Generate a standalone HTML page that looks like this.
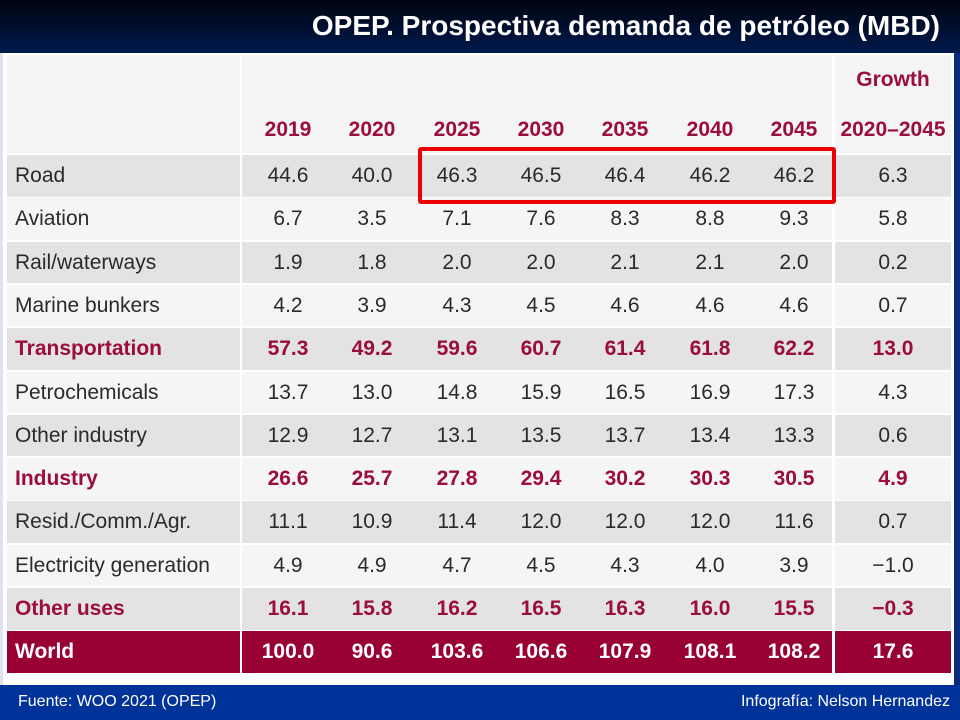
<!DOCTYPE html>
<html><head><meta charset="utf-8">
<style>
body{margin:0;width:960px;height:720px;overflow:hidden;background:#fff;font-family:"Liberation Sans Narrow","Liberation Sans",sans-serif;position:relative}
#top{position:absolute;left:0;top:0;width:960px;height:53px;background:linear-gradient(#00030f,#001a4d)}
#title{position:absolute;right:20px;top:10px;color:#fff;font:bold 28px "Liberation Sans",sans-serif;white-space:nowrap}
#bottom{position:absolute;left:0;top:685px;width:960px;height:35px;background:#003399}
#rightedge{position:absolute;left:954px;top:53px;width:6px;height:632px;background:#0a2a7a}
#leftedge{position:absolute;left:0;top:53px;width:3px;height:632px;background:#dfe3ee}
.foot{position:absolute;top:693px;color:#fff;font:16px "Liberation Sans Narrow","Liberation Sans",sans-serif}
.cell{position:absolute;box-sizing:border-box;font-size:21px;color:#222;line-height:42px;white-space:nowrap}
.hd{position:absolute;color:#9b0d3a;font-weight:bold;font-size:21px;text-align:center}
</style></head><body>
<div id="top"></div>
<div id="title">OPEP. Prospectiva demanda de petróleo (MBD)</div>
<div id="leftedge"></div>
<div id="rightedge"></div>
<div id="table"></div>
<div id="bottom"></div>
<div class="foot" style="left:18px">Fuente: WOO 2021 (OPEP)</div>
<div class="foot" style="right:10px">Infografía: Nelson Hernandez</div>
<script>
const years = ["2019","2020","2025","2030","2035","2040","2045"];
const categories = ["Road","Aviation","Rail/waterways","Marine bunkers","Transportation","Petrochemicals","Other industry","Industry","Resid./Comm./Agr.","Electricity generation","Other uses","World"];
const subtotal = [false,false,false,false,true,false,false,true,false,false,true,true];
const values = [
["44.6","40.0","46.3","46.5","46.4","46.2","46.2"],
["6.7","3.5","7.1","7.6","8.3","8.8","9.3"],
["1.9","1.8","2.0","2.0","2.1","2.1","2.0"],
["4.2","3.9","4.3","4.5","4.6","4.6","4.6"],
["57.3","49.2","59.6","60.7","61.4","61.8","62.2"],
["13.7","13.0","14.8","15.9","16.5","16.9","17.3"],
["12.9","12.7","13.1","13.5","13.7","13.4","13.3"],
["26.6","25.7","27.8","29.4","30.2","30.3","30.5"],
["11.1","10.9","11.4","12.0","12.0","12.0","11.6"],
["4.9","4.9","4.7","4.5","4.3","4.0","3.9"],
["16.1","15.8","16.2","16.5","16.3","16.0","15.5"],
["100.0","90.6","103.6","106.6","107.9","108.1","108.2"]];
const growth = ["6.3","5.8","0.2","0.7","13.0","4.3","0.6","4.9","0.7","−1.0","−0.3","17.6"];

const T = document.getElementById('table');
const colX = [288,372,457,541,625,710,794];
const rowY = i => 155 + i*43.3;
function add(cls, css, txt, name){
  const d=document.createElement('div');
  d.className=cls; d.style.cssText=css; if(txt!==null) d.textContent=txt;
  
  
  T.appendChild(d); return d;
}
add('cell','left:7px;top:55px;width:233px;height:98px;background:#f4f4f4',null,'header-blank');
add('cell','left:242px;top:55px;width:590px;height:98px;background:#f4f4f4',null,'header-years-bg');
add('cell','left:835px;top:55px;width:116px;height:98px;background:#f4f4f4',null,'header-growth-bg');
years.forEach((y,j)=>{
  add('hd','left:'+(colX[j]-40)+'px;top:118px;width:80px',y,'year-header');
});
add('hd','left:835px;top:68px;width:116px','Growth','growth-header');
add('hd','left:835px;top:118px;width:116px','2020–2045','growth-period-header');

categories.forEach((c,i)=>{
  const world = i===categories.length-1;
  const bg = world ? '#990033' : (i%2===0 ? '#e3e3e3' : '#f5f5f5');
  const col = world ? '#fff' : (subtotal[i] ? '#9b0d3a' : '#2a2a2a');
  const fw = subtotal[i] ? 'bold' : 'normal';
  const top = rowY(i), h=41.5;
  add('cell','left:7px;top:'+top+'px;width:233px;height:'+h+'px;background:'+bg+';padding-left:8px;color:'+col+';font-weight:'+fw,c,'row-label');
  add('cell','left:242px;top:'+top+'px;width:590px;height:'+h+'px;background:'+bg,null,'row-bg');
  add('cell','left:835px;top:'+top+'px;width:116px;height:'+h+'px;background:'+bg+';text-align:center;color:'+col+';font-weight:'+fw,growth[i],'growth-value');
  values[i].forEach((v,j)=>{
    add('cell','left:'+(colX[j]-40)+'px;top:'+top+'px;width:80px;height:'+h+'px;text-align:center;color:'+col+';font-weight:'+fw,v,'value-cell');
  });
});
add('cell','left:418px;top:147px;width:418px;height:57px;border:4px solid #ee0000;border-radius:3px',null,'highlight-box');
</script>
</body></html>
